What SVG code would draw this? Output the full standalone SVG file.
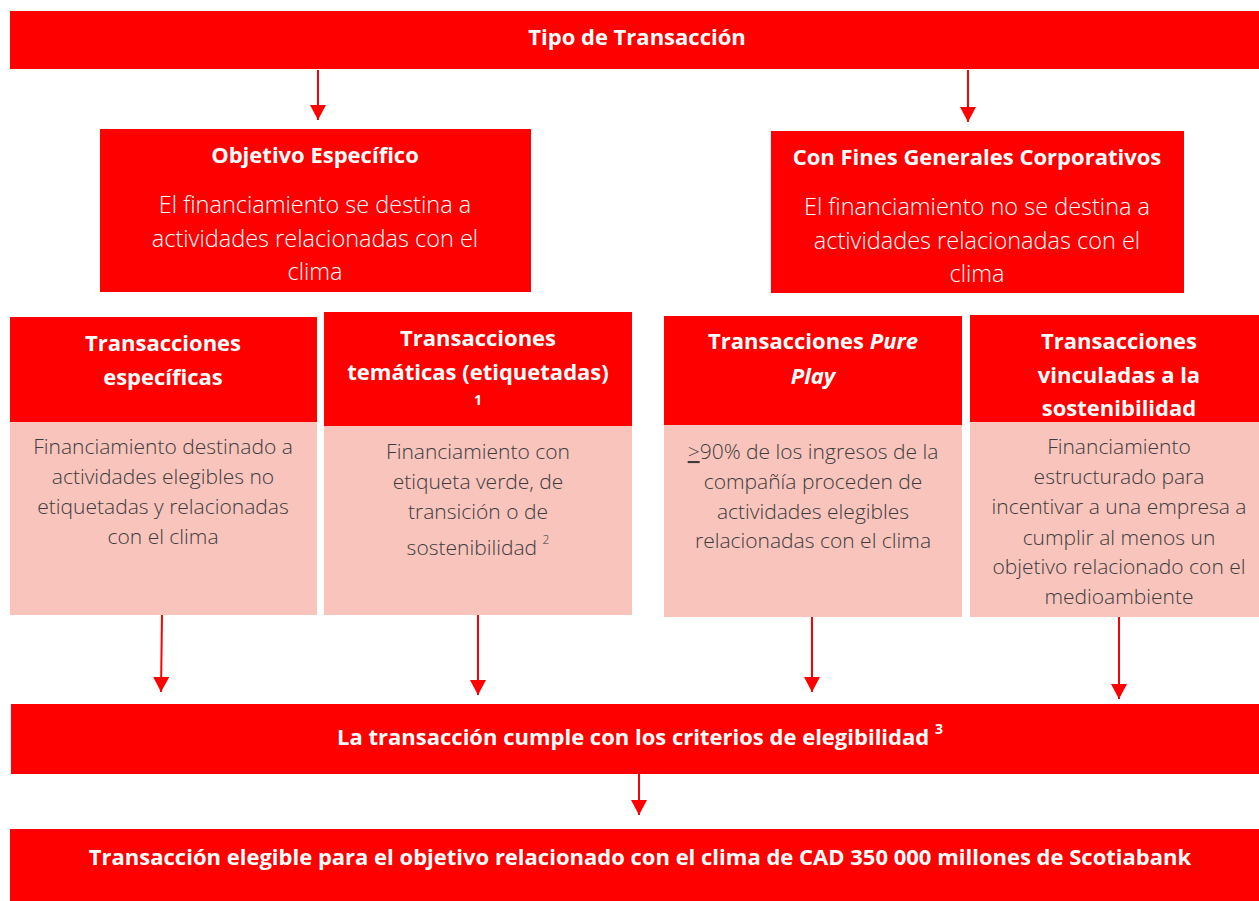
<svg xmlns="http://www.w3.org/2000/svg" width="1259" height="901" viewBox="0 0 1259 901">
<defs>
<style>
.red{fill:#FF0000}
.pink{fill:#F8C4BC}
.hb{font-family:"Open Sans","Liberation Sans",sans-serif;font-weight:700;fill:#FFFFFF;text-anchor:middle;font-size:22px}
.hw{font-family:"Open Sans","Liberation Sans",sans-serif;font-weight:300;fill:#FFFFFF;text-anchor:middle;font-size:23.5px}
.bd{font-family:"Open Sans","Liberation Sans",sans-serif;font-weight:300;fill:#3C3C3C;text-anchor:middle;font-size:21px}
.con{stroke:#FF0000;stroke-width:2;fill:none;marker-end:url(#ah)}
</style>
<marker id="ah" markerUnits="userSpaceOnUse" markerWidth="15" markerHeight="16" viewBox="0 0 15 16" refX="15" refY="8" orient="auto">
<path d="M0,0 L15,8 L0,16 z" fill="#FF0000"/>
</marker>
</defs>
<rect width="1259" height="901" fill="#FFFFFF"/>

<g id="connectors">
<line class="con" x1="318" y1="70" x2="318" y2="120"/>
<line class="con" x1="968" y1="70" x2="968" y2="122"/>
<line class="con" x1="162" y1="615" x2="161" y2="692"/>
<line class="con" x1="478" y1="615" x2="478" y2="695"/>
<line class="con" x1="812" y1="617" x2="812" y2="692"/>
<line class="con" x1="1119" y1="617" x2="1119" y2="699"/>
<line class="con" x1="639" y1="774" x2="639" y2="815"/>
</g>

<g id="tipo">
<rect class="red" x="10" y="11" width="1249" height="58"/>
<text class="hb" x="637" y="45">Tipo de Transacción</text>
</g>

<g id="objetivo">
<rect class="red" x="100" y="129" width="431" height="163"/>
<text class="hb" x="315" y="163">Objetivo Específico</text>
<text class="hw" x="315" y="213">El financiamiento se destina a</text>
<text class="hw" x="315" y="247">actividades relacionadas con el</text>
<text class="hw" x="315" y="280">clima</text>
</g>

<g id="fines">
<rect class="red" x="771" y="131" width="413" height="162"/>
<text class="hb" x="977" y="165">Con Fines Generales Corporativos</text>
<text class="hw" x="977" y="215">El financiamiento no se destina a</text>
<text class="hw" x="977" y="249">actividades relacionadas con el</text>
<text class="hw" x="977" y="282">clima</text>
</g>

<g id="especificas">
<rect class="red" x="10" y="317" width="307" height="106"/>
<rect class="pink" x="10" y="422" width="307" height="193"/>
<text class="hb" x="163" y="351">Transacciones</text>
<text class="hb" x="163" y="385">específicas</text>
<text class="bd" x="163" y="454">Financiamiento destinado a</text>
<text class="bd" x="163" y="484">actividades elegibles no</text>
<text class="bd" x="163" y="514">etiquetadas y relacionadas</text>
<text class="bd" x="163" y="544">con el clima</text>
</g>

<g id="tematicas">
<rect class="red" x="324" y="312" width="308" height="115"/>
<rect class="pink" x="324" y="426" width="308" height="189"/>
<text class="hb" x="478" y="346">Transacciones</text>
<text class="hb" x="478" y="380">temáticas (etiquetadas)</text>
<text class="hb" x="478" y="405" style="font-size:14px">1</text>
<text class="bd" x="478" y="459">Financiamiento con</text>
<text class="bd" x="478" y="489">etiqueta verde, de</text>
<text class="bd" x="478" y="519">transición o de</text>
<text class="bd" x="478" y="555">sostenibilidad <tspan dy="-11" style="font-size:12px">2</tspan></text>
</g>

<g id="pureplay">
<rect class="red" x="664" y="316" width="298" height="110"/>
<rect class="pink" x="664" y="425" width="298" height="192"/>
<text class="hb" x="813" y="349">Transacciones <tspan font-style="italic">Pure</tspan></text>
<text class="hb" x="813" y="384" font-style="italic">Play</text>
<text class="bd" x="813" y="459"><tspan text-decoration="underline">&gt;</tspan>90% de los ingresos de la</text>
<text class="bd" x="813" y="489">compañía proceden de</text>
<text class="bd" x="813" y="519">actividades elegibles</text>
<text class="bd" x="813" y="548">relacionadas con el clima</text>
</g>

<g id="vinculadas">
<rect class="red" x="970" y="315" width="289" height="108"/>
<rect class="pink" x="970" y="422" width="289" height="195"/>
<text class="hb" x="1119" y="349">Transacciones</text>
<text class="hb" x="1119" y="383">vinculadas a la</text>
<text class="hb" x="1119" y="416">sostenibilidad</text>
<text class="bd" x="1119" y="454">Financiamiento</text>
<text class="bd" x="1119" y="484">estructurado para</text>
<text class="bd" x="1119" y="514">incentivar a una empresa a</text>
<text class="bd" x="1119" y="545">cumplir al menos un</text>
<text class="bd" x="1119" y="574">objetivo relacionado con el</text>
<text class="bd" x="1119" y="604">medioambiente</text>
</g>

<g id="cumple">
<rect class="red" x="11" y="704" width="1248" height="70"/>
<text class="hb" x="640" y="745">La transacción cumple con los criterios de elegibilidad <tspan dy="-11" style="font-size:14px">3</tspan></text>
</g>

<g id="elegible">
<rect class="red" x="10" y="829" width="1249" height="72"/>
<text class="hb" x="640" y="865">Transacción elegible para el objetivo relacionado con el clima de CAD 350 000 millones de Scotiabank</text>
</g>
</svg>
